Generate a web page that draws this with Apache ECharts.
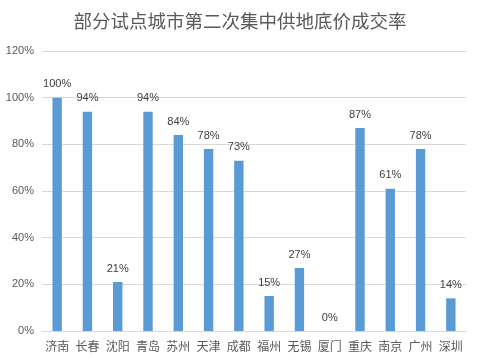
<!DOCTYPE html>
<html><head><meta charset="utf-8">
<script src="https://cdn.jsdelivr.net/npm/echarts@6/dist/echarts.min.js"></script>
<style>html,body{margin:0;padding:0;background:#fff}#c{width:480px;height:363px}</style>
</head><body><div id="c"></div>
<script>
const categories = ['济南','长春','沈阳','青岛','苏州','天津','成都','福州','无锡','厦门','重庆','南京','广州','深圳'];
const values = [100, 94, 21, 94, 84, 78, 73, 15, 27, 0, 87, 61, 78, 14];
const yTicks = { min: 0, max: 120, interval: 20 };
const titleText = '部分试点城市第二次集中供地底价成交率';

const chart = echarts.init(document.getElementById('c'), null, {renderer: 'canvas'});
chart.setOption({
  animation: false,
  title: {
    text: titleText, left: 'center', top: 7,
    textStyle: {fontSize: 18.5, fontWeight: 'normal', color: '#595959', fontFamily: 'Noto Sans CJK SC'}
  },
  grid: {left: 42, right: 14, top: 51, bottom: 32, containLabel: false},
  xAxis: {
    type: 'category', data: categories,
    axisLine: {lineStyle: {color: '#d9d9d9'}},
    axisTick: {show: false},
    axisLabel: {color: '#595959', fontSize: 12, fontFamily: 'Noto Sans CJK SC', margin: 9, interval: 0}
  },
  yAxis: {
    type: 'value', min: yTicks.min, max: yTicks.max, interval: yTicks.interval,
    axisLine: {show: false}, axisTick: {show: false},
    splitLine: {lineStyle: {color: '#d9d9d9'}},
    axisLabel: {color: '#595959', fontSize: 11, fontFamily: 'Liberation Sans', formatter: '{value}%', margin: 8}
  },
  series: [{
    type: 'bar', data: values, barWidth: '31%',
    itemStyle: {color: '#5B9BD5'},
    label: {show: true, position: 'top', distance: 8, formatter: '{c}%', color: '#404040', fontSize: 11, fontFamily: 'Liberation Sans'}
  }]
});
</script></body></html>
